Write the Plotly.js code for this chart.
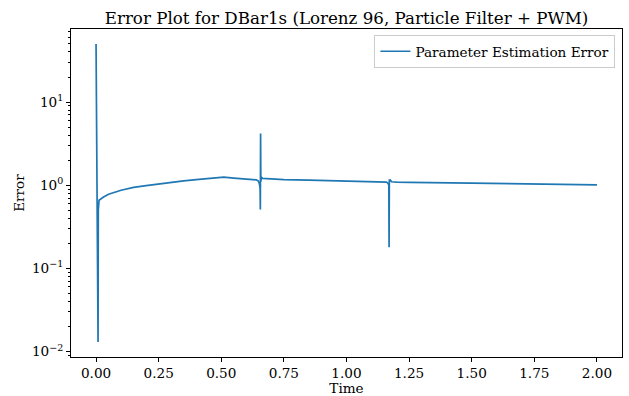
<!DOCTYPE html>
<html>
<head>
<meta charset="utf-8">
<script src="https://cdn.plot.ly/plotly-3.0.1.min.js"></script>
<style>
  html, body { margin: 0; padding: 0; background: #fff; }
  #plot { width: 629px; height: 396px; }
</style>
</head>
<body>
<div id="plot"></div>
<script>
// Parameter estimation error over time (log scale)
const time = [
  0.000, 0.001, 0.0015, 0.002, 0.0025, 0.003, 0.0035, 0.004, 0.006, 0.008,
  0.009, 0.010, 0.012, 0.03, 0.05, 0.10, 0.15, 0.20, 0.25, 0.30,
  0.35, 0.40, 0.45, 0.50, 0.51, 0.55, 0.60, 0.64, 0.648, 0.652,
  0.655, 0.656, 0.657, 0.658, 0.660, 0.665, 0.70, 0.75, 0.85, 0.95,
  1.05, 1.12, 1.160, 1.166, 1.169, 1.170, 1.171, 1.172, 1.175, 1.18,
  1.20, 1.25, 1.50, 1.75, 2.00
];
const error = [
  50, 14, 7, 12, 6.5, 13, 7, 3, 0.3, 0.013,
  0.5, 0.62, 0.66, 0.72, 0.78, 0.87, 0.94, 0.99, 1.04, 1.09,
  1.13, 1.17, 1.20, 1.24, 1.25, 1.22, 1.19, 1.16, 1.12, 1.05,
  0.92, 0.51, 4.2, 1.10, 1.25, 1.21, 1.19, 1.17, 1.15, 1.13,
  1.11, 1.10, 1.09, 1.05, 1.0, 0.18, 1.18, 1.12, 1.15, 1.10,
  1.09, 1.08, 1.06, 1.04, 1.01
];

const yMajor = [0.01, 0.1, 1, 10];
const yMajorText = ['10<sup>\u22122</sup>', '10<sup>\u22121</sup>', '10<sup>0</sup>', '10<sup>1</sup>'];
const xTicks = [0, 0.25, 0.5, 0.75, 1.0, 1.25, 1.5, 1.75, 2.0];
const xTickText = ['0.00', '0.25', '0.50', '0.75', '1.00', '1.25', '1.50', '1.75', '2.00'];

// minor ticks 2..9 in each decade
const yMinor = [];
for (let k = -3; k <= 1; k++) {
  for (let m = 2; m <= 9; m++) yMinor.push(m * Math.pow(10, k));
}

const font = { family: 'DejaVu Serif', color: '#000', size: 13.6 };

const trace = {
  x: time, y: error, type: 'scatter', mode: 'lines',
  name: 'Parameter Estimation Error',
  line: { color: '#1f77b4', width: 1.7 }
};

const layout = {
  width: 629, height: 396,
  margin: { l: 71, r: 7, t: 29, b: 39 },
  paper_bgcolor: '#fff', plot_bgcolor: '#fff',
  font: font,
  title: {
    text: 'Error Plot for DBar1s (Lorenz 96, Particle Filter + PWM)',
    font: { family: 'DejaVu Serif', size: 16.7, color: '#000' },
    x: 0.5, xref: 'paper', y: 0.955, yref: 'container', yanchor: 'middle'
  },
  xaxis: {
    range: [-0.1, 2.1],
    tickvals: xTicks, ticktext: xTickText,
    ticks: 'outside', ticklen: 4, tickcolor: '#000',
    showgrid: false, zeroline: false,
    showline: true, linecolor: '#000', linewidth: 1, mirror: true,
    title: { text: 'Time', font: font, standoff: 2 }
  },
  yaxis: {
    type: 'log',
    range: [-2.065, 1.878],
    tickvals: yMajor, ticktext: yMajorText,
    ticks: 'outside', ticklen: 4, tickcolor: '#000',
    minor: { tickvals: yMinor, ticks: 'outside', ticklen: 2, tickcolor: '#000', showgrid: false },
    showgrid: false, zeroline: false,
    showline: true, linecolor: '#000', linewidth: 1, mirror: true,
    title: { text: 'Error', font: font, standoff: 4 }
  },
  showlegend: true,
  legend: {
    x: 0.988, y: 0.982, xanchor: 'right', yanchor: 'top',
    bgcolor: 'rgba(255,255,255,0.8)', bordercolor: '#cccccc', borderwidth: 1,
    font: font
  }
};

Plotly.newPlot('plot', [trace], layout, { staticPlot: true });
</script>
</body>
</html>
